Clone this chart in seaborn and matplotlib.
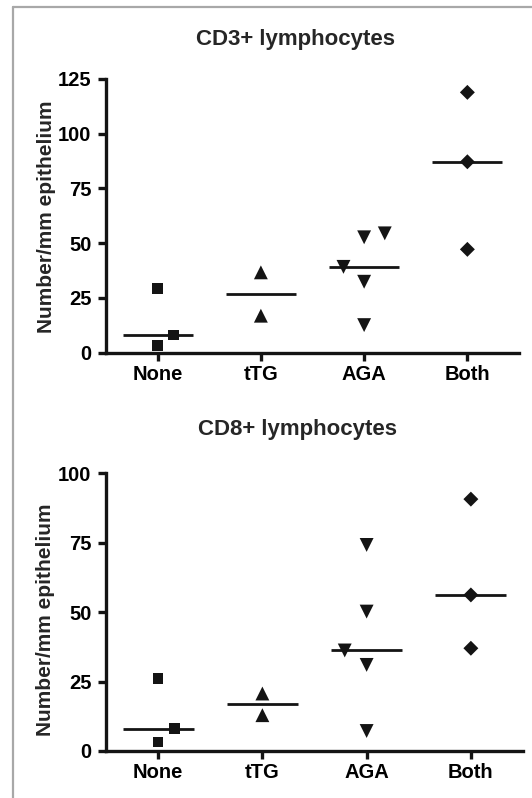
import numpy as np
import pandas as pd
import matplotlib
matplotlib.use("Agg")
import matplotlib.pyplot as plt
import seaborn as sns
from matplotlib.lines import Line2D

# ---------------- data ----------------
groups = ["None", "tTG", "AGA", "Both"]

cd3_none = [29.4, 8.1, 3.2]
cd3_ttg = [36.7, 16.9]
cd3_aga = [39.2, 52.7, 54.5, 32.4, 12.6]
cd3_both = [118.9, 87.2, 47.2]

cd8_none = [26.1, 8.1, 3.3]
cd8_ttg = [20.7, 12.9]
cd8_aga = [74.2, 50.2, 36.2, 31.0, 7.2]
cd8_both = [90.7, 56.2, 37.0]

# side-by-side placement of overlapping points (in category units)
cd3_nudge = [0, 0.155, 0, 0, 0, -0.2, 0, 0.2, 0, 0, 0, 0, 0]
cd8_nudge = [0, 0.16, 0, 0, 0, 0, 0, -0.21, 0, 0, 0, 0, 0]

cd3_yticks = [0, 25, 50, 75, 100, 125]
cd8_yticks = [0, 25, 50, 75, 100]

# ---------------- style ----------------
sns.set_theme(style="ticks")
plt.rcParams["font.family"] = ["Liberation Sans", "DejaVu Sans"]
plt.rcParams["font.weight"] = "bold"

INK = "#141414"
marker_map = {"None": "s", "tTG": "^", "AGA": "v", "Both": "D"}
size_map = {"None": 59, "tTG": 100, "AGA": 100, "Both": 58}

fig = plt.figure(figsize=(5.32, 7.98), dpi=100)
W, H = 532, 798


def px_axes(left, right, top, bottom):
    return fig.add_axes([left / W, 1 - bottom / H, (right - left) / W, (bottom - top) / H])


def panel(ax, vals, nudge, yticks, label_xy):
    df = pd.DataFrame({
        "group": np.repeat(groups, [len(v) for v in vals]),
        "value": np.concatenate(vals),
    })
    codes = {g: i for i, g in enumerate(groups)}
    df["x"] = df["group"].map(codes) + np.asarray(nudge)
    sns.scatterplot(data=df, x="x", y="value", style="group", style_order=groups,
                    markers=marker_map, size="group", size_order=groups, sizes=size_map,
                    color=INK, linewidth=0, legend=False, ax=ax, clip_on=False, zorder=3)
    med = df.groupby("group", sort=False)["value"].median()
    pos = np.array([codes[g] for g in med.index])
    ax.hlines(med.values, pos - 0.34, pos + 0.34, color=INK, lw=2.0, zorder=2)

    ax.set_xlim(-0.5, 3.5)
    ax.set_ylim(yticks[0], yticks[-1])
    ax.set_yticks(yticks)
    ax.set_xticks(range(len(groups)))
    ax.set_xticklabels(groups)
    sns.despine(ax=ax)
    for s in ("left", "bottom"):
        ax.spines[s].set_linewidth(2.4)
        ax.spines[s].set_color(INK)
    ax.tick_params(axis="both", length=6, width=2.4, color=INK, labelsize=14.5,
                   labelcolor="black")
    ax.tick_params(axis="x", pad=3)
    ax.tick_params(axis="y", pad=4.5)
    for t in ax.get_xticklabels() + ax.get_yticklabels():
        t.set_fontweight("bold")
    ax.set_xlabel("")
    ax.set_ylabel("Number/mm epithelium", fontsize=15, fontweight="bold")
    ax.yaxis.set_label_coords(*label_xy)
    ax.patch.set_alpha(0)


ax1 = px_axes(106, 519, 79, 352.7)
panel(ax1, [cd3_none, cd3_ttg, cd3_aga, cd3_both], cd3_nudge, cd3_yticks, (-0.12, 0.495))

ax2 = px_axes(106, 523, 473.3, 751)
panel(ax2, [cd8_none, cd8_ttg, cd8_aga, cd8_both], cd8_nudge, cd8_yticks, (-0.122, 0.474))

fig.text(295 / W, 1 - 39 / H, "CD3+ lymphocytes", ha="center", va="center",
         fontsize=16, fontweight="bold")
fig.text(298 / W, 1 - 430 / H, "CD8+ lymphocytes", ha="center", va="center",
         fontsize=16, fontweight="bold")

# light grey frame (left and top edges visible)
fig.add_artist(Line2D([13 / W, 13 / W], [0, 1 - 7 / H], transform=fig.transFigure,
                      color="#a8a8a8", lw=1.6))
fig.add_artist(Line2D([13 / W, 1], [1 - 7 / H, 1 - 7 / H], transform=fig.transFigure,
                      color="#a8a8a8", lw=1.6))

fig.savefig("out.png", dpi=100)
